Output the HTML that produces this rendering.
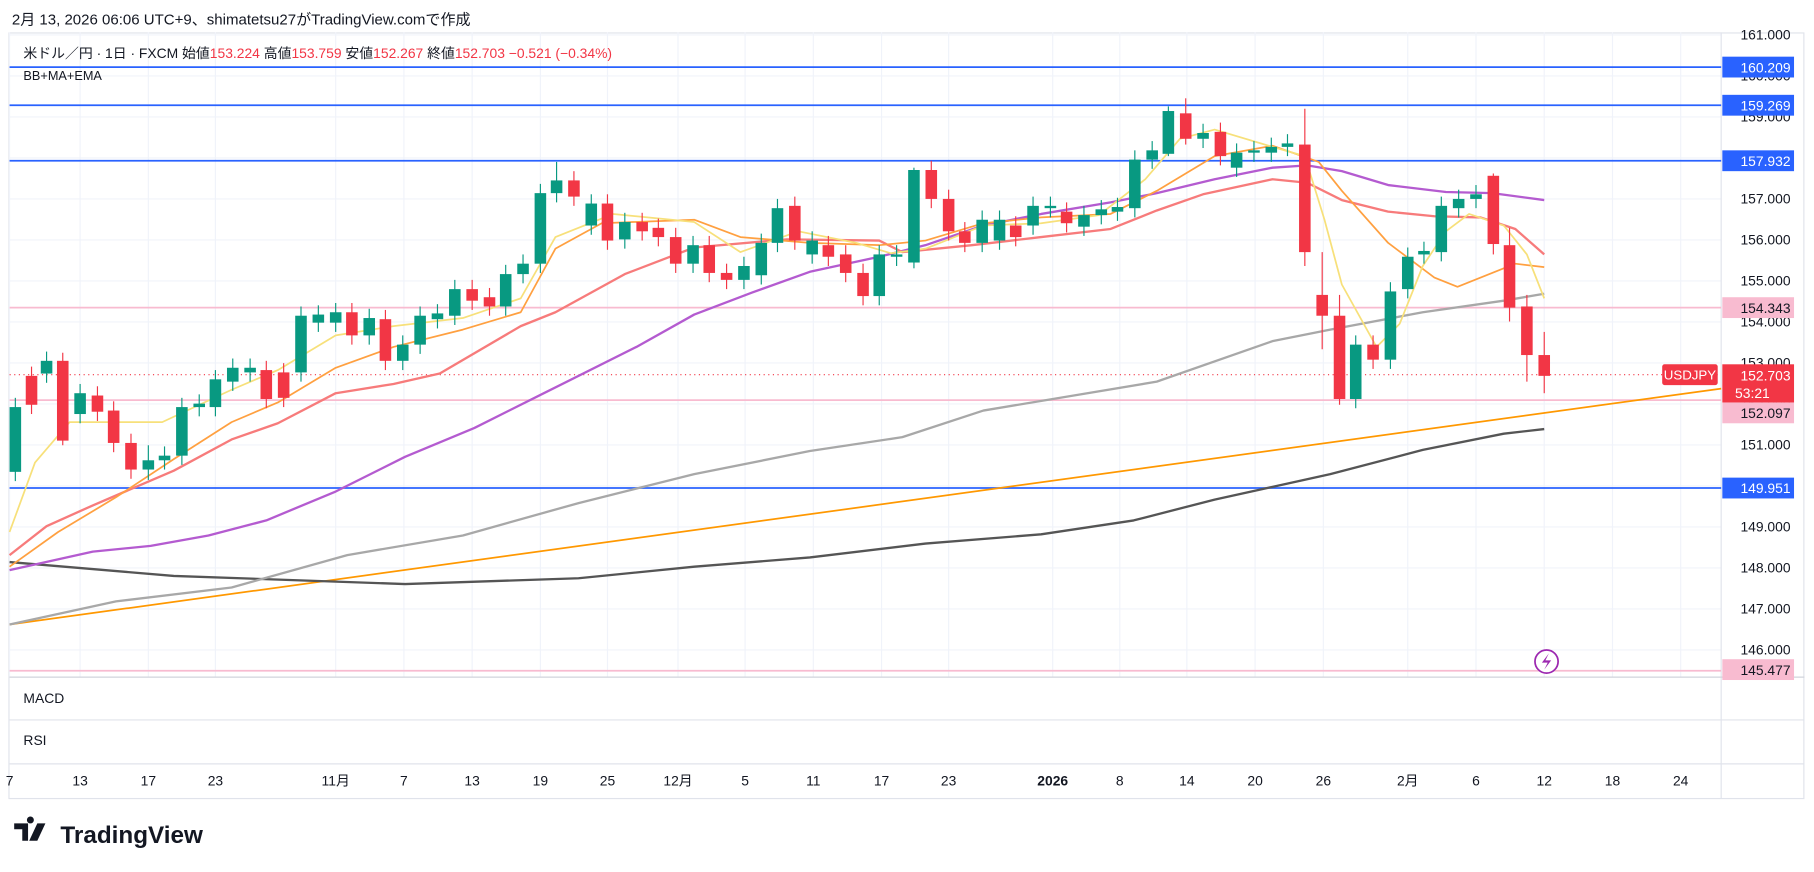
<!DOCTYPE html>
<html><head><meta charset="utf-8"><style>
html,body{margin:0;padding:0;background:#fff;width:1814px;height:872px;overflow:hidden}
svg{display:block}
text{font-family:"Liberation Sans","Noto Sans CJK JP",sans-serif}
</style></head><body>
<svg id="s" width="1814" height="872" viewBox="0 0 1568 754" xmlns="http://www.w3.org/2000/svg">
<rect x="0" y="0" width="1568" height="754" fill="#fff"/>
<text x="10" y="21" font-size="13" fill="#131722">2月 13, 2026 06:06 UTC+9、shimatetsu27がTradingView.comで作成</text>
<rect x="7.5" y="28.5" width="1552" height="662" fill="none" stroke="#e0e3eb"/>
<g id="grid" stroke="#f0f3fa" stroke-width="1"></g>
<line x1="1488" y1="28" x2="1488" y2="690" stroke="#e0e3eb"/>
<line x1="8" y1="585.5" x2="1560" y2="585.5" stroke="#d1d4dc"/>
<line x1="8" y1="622.5" x2="1560" y2="622.5" stroke="#e0e3eb"/>
<line x1="8" y1="660.5" x2="1560" y2="660.5" stroke="#e0e3eb"/>
<g id="hl"></g>
<g id="ind" fill="none"></g>
<g id="cd"></g>
<g id="lab"></g>
<text x="20" y="50" font-size="12" fill="#131722">米ドル／円 · 1日 · FXCM  始値<tspan fill="#f23645">153.224</tspan>  高値<tspan fill="#f23645">153.759</tspan>  安値<tspan fill="#f23645">152.267</tspan>  終値<tspan fill="#f23645">152.703  −0.521 (−0.34%)</tspan></text>
<text x="20" y="69" font-size="11" fill="#131722">BB+MA+EMA</text>
<text x="20" y="608" font-size="12" fill="#131722">MACD</text>
<text x="20" y="644" font-size="12" fill="#131722">RSI</text>
<circle cx="1337" cy="572" r="10" fill="#fff" stroke="#9c27b0" stroke-width="1.5"/>
<path d="M1339 565 L1333 573 L1338 573 L1335 579 L1341 571 L1336 571 Z" fill="#9c27b0"/>
<g transform="translate(12,709)"><path d="M0 3 H12 V18 H7 V8 H0 Z M14 3 a3 3 0 1 1 0.01 0 Z M20 3 H27 L20 18 H13 Z" fill="#131722"/></g>
<text x="52" y="729" font-size="21" font-weight="bold" fill="#131722">TradingView</text>
</svg>
<script>
const NS="http://www.w3.org/2000/svg";
function el(p,t,a,txt){const e=document.createElementNS(NS,t);for(const k in a)e.setAttribute(k,a[k]);if(txt!=null)e.textContent=txt;document.getElementById(p).appendChild(e);return e;}
const Y=p=>172+(157-p)*35.45;
// grid
for(let p=146;p<=161;p++){const y=Y(p);el('grid','line',{x1:8,y1:y,x2:1488,y2:y});el('lab','text',{x:1548,y:y+4,'font-size':12,fill:'#131722','text-anchor':'end'},p.toFixed(3));}
const tx=[[8,'7'],[69,'13'],[128,'17'],[186,'23'],[290,'11月'],[349,'7'],[408,'13'],[467,'19'],[525,'25'],[586,'12月'],[644,'5'],[703,'11'],[762,'17'],[820,'23'],[910,'2026'],[968,'8'],[1026,'14'],[1085,'20'],[1144,'26'],[1217,'2月'],[1276,'6'],[1335,'12'],[1394,'18'],[1453,'24']];
tx.forEach(([x,t])=>{el('grid','line',{x1:x,y1:28,x2:x,y2:585});el('lab','text',{x:x,y:679,'font-size':12,fill:'#131722','text-anchor':'middle','font-weight':t=='2026'?'bold':'normal'},t);});
// horizontal lines
[[58,'#2962ff'],[91,'#2962ff'],[139,'#2962ff'],[422,'#2962ff'],[266,'#f8bbd0'],[346,'#f8bbd0'],[580,'#f8bbd0']].forEach(([y,c])=>el('hl','line',{x1:8,y1:y,x2:1488,y2:y,stroke:c,'stroke-width':1.5}));
el('hl','line',{x1:8,y1:324,x2:1488,y2:324,stroke:'#f23645','stroke-dasharray':'1 3'});
el('hl','line',{x1:8,y1:540,x2:1488,y2:336,stroke:'#ff9800','stroke-width':1.5});
// indicators
function pl(pts,c,w){el('ind','polyline',{points:pts.map(p=>p.join(',')).join(' '),stroke:c,'stroke-width':w||1.5,'stroke-linejoin':'round'});}
pl([[8,486],[150,498],[350,505],[500,500],[600,490],[700,482],[800,470],[900,462],[980,450],[1050,432],[1150,410],[1230,389],[1300,375],[1335,371]],'#555',2);
pl([[8,540],[100,520],[200,508],[300,480],[400,463],[500,435],[600,410],[700,390],[780,378],[850,355],[1000,330],[1100,295],[1150,285],[1230,270],[1300,260],[1335,254]],'#a8a8a8',2);
pl([[8,493],[80,477],[130,472],[180,463],[230,450],[290,425],[350,395],[410,370],[470,340],[550,300],[600,272],[650,253],[700,235],[760,222],[800,212],[850,195],[900,185],[960,175],[1000,167],[1050,155],[1100,145],[1130,143],[1160,148],[1200,160],[1250,166],[1290,167],[1335,173]],'#b45bd0',2);
pl([[8,480],[40,455],[80,437],[150,407],[200,380],[240,366],[290,340],[340,332],[380,323],[450,282],[480,270],[540,237],[600,214],[680,207],[760,208],[780,218],[840,212],[900,205],[960,198],[1000,182],[1040,168],[1100,155],[1130,158],[1160,173],[1200,183],[1240,187],[1280,188],[1310,198],[1335,220]],'#f77b7b',2);
pl([[8,490],[50,460],[100,430],[150,397],[200,365],[240,348],[290,318],[340,300],[400,285],[450,270],[480,215],[520,193],[600,190],[640,205],[700,210],[760,212],[800,208],[850,193],[900,188],[960,185],[1000,165],[1050,135],[1100,126],[1140,140],[1160,165],[1200,210],[1240,240],[1260,248],[1290,236],[1310,228],[1335,231]],'#ffa040',1.5);
pl([[8,460],[30,400],[60,365],[140,365],[200,337],[240,320],[290,290],[340,282],[400,275],[450,258],[480,205],[530,185],[600,192],[640,218],[690,200],[740,210],[770,219],[800,215],[850,195],[900,193],[950,186],[990,155],[1020,120],[1050,112],[1100,127],[1128,135],[1145,190],[1160,246],[1190,300],[1210,280],[1230,230],[1250,200],[1270,185],[1300,195],[1320,220],[1335,258]],'#f7e07a',1.5);
// candles [x,top,bottom,green?]
const C=[[13,352,408,1],[27,325,350,0],[40,312,323,1],[54,312,381,0],[69,340,358,1],[84,342,356,0],[98,355,383,0],[113,383,406,0],[128,398,406,1],[142,394,398,1],[157,352,394,1],[172,349,352,1],[186,328,352,1],[201,318,330,1],[216,318,322,1],[230,320,345,0],[245,322,344,0],[260,273,322,1],[275,272,279,1],[290,270,279,1],[304,270,290,0],[319,275,290,1],[333,276,312,0],[348,298,312,1],[363,273,298,1],[378,271,276,1],[393,250,273,1],[408,250,260,0],[423,257,265,0],[437,237,265,1],[452,228,237,1],[467,167,228,1],[481,156,167,1],[496,156,170,0],[511,176,195,1],[525,176,208,0],[540,192,207,1],[555,192,200,0],[569,197,205,0],[584,205,228,0],[599,212,228,1],[613,212,236,0],[628,236,242,0],[643,230,242,1],[658,210,238,1],[672,180,210,1],[687,178,208,0],[702,208,220,1],[716,212,222,0],[731,220,236,0],[746,236,256,0],[760,220,256,1],[775,220,222,1],[790,147,227,1],[805,147,172,0],[820,172,200,0],[834,200,210,0],[849,190,210,1],[864,190,208,1],[878,195,205,0],[893,178,195,1],[908,178,180,1],[922,183,193,0],[937,186,196,1],[952,181,186,1],[966,179,183,1],[981,138,180,1],[996,130,138,1],[1010,96,133,1],[1025,98,120,0],[1040,115,120,1],[1055,114,135,0],[1069,132,145,1],[1084,130,132,1],[1099,127,132,1],[1113,124,127,1],[1128,125,218,0],[1143,255,273,0],[1158,273,345,0],[1172,298,345,1],[1187,298,311,0],[1202,252,311,1],[1217,222,250,1],[1231,217,220,1],[1246,178,218,1],[1261,172,180,1],[1276,168,172,1],[1291,152,211,0],[1305,212,266,0],[1320,265,307,0],[1335,307,325,0]];
const wk={1128:[94,230],1025:[85,125],1158:[255,350],1143:[218,302],1291:[150,220],1305:[197,278],1320:[255,330],1335:[287,340],481:[140,175],790:[145,232],54:[305,385],128:[385,415],1010:[92,135]};
C.forEach(([x,t,b,g])=>{const c=g?'#089981':'#f23645';const w=wk[x]||[t-8,b+8];el('cd','line',{x1:x,y1:w[0],x2:x,y2:w[1],stroke:c,'stroke-width':1});el('cd','rect',{x:x-5,y:t,width:10,height:Math.max(1,b-t),fill:c});});
// right labels
function box(y,txt,bg,fg){el('lab','rect',{x:1489,y:y-9,width:62,height:18,fill:bg});el('lab','text',{x:1548,y:y+4.5,'font-size':12,fill:fg,'text-anchor':'end'},txt);}
box(58,'160.209','#2962ff','#fff');box(91,'159.269','#2962ff','#fff');box(139,'157.932','#2962ff','#fff');box(422,'149.951','#2962ff','#fff');
box(266,'154.343','#f8bbd0','#131722');box(357,'152.097','#f8bbd0','#131722');box(579,'145.477','#f8bbd0','#131722');
el('lab','rect',{x:1489,y:315,width:62,height:33,fill:'#f23645'});
el('lab','text',{x:1548,y:329,'font-size':12,fill:'#fff','text-anchor':'end'},'152.703');
el('lab','text',{x:1530,y:344,'font-size':12,fill:'#fff','text-anchor':'end'},'53:21');
el('lab','rect',{x:1437,y:315,width:48,height:18,fill:'#f23645',rx:2});
el('lab','text',{x:1461,y:328,'font-size':11.5,fill:'#fff','text-anchor':'middle'},'USDJPY');
</script>
</body></html>
